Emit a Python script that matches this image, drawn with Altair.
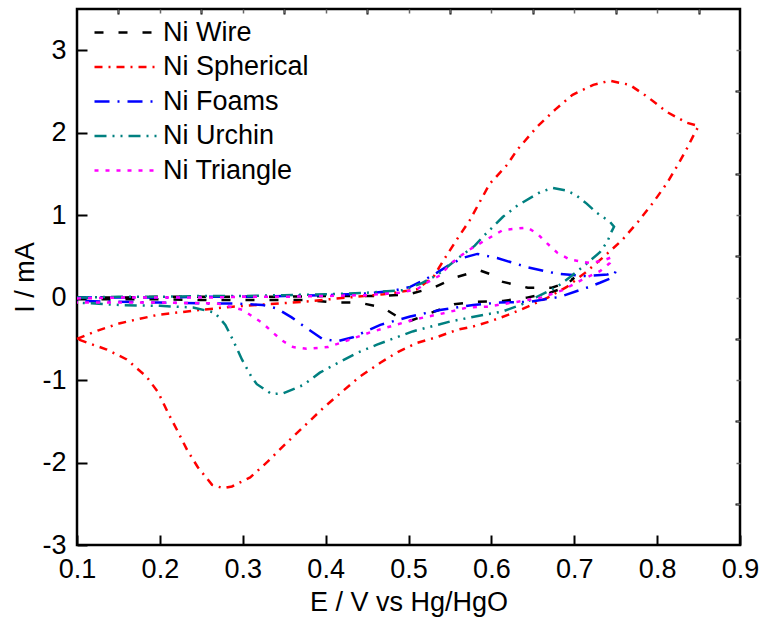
import altair as alt
import pandas as pd

series_names = ["Ni Wire", "Ni Spherical", "Ni Foams", "Ni Urchin", "Ni Triangle"]
series_colors = ["#000000", "#FF0000", "#0000FF", "#008080", "#FF00FF"]
series_dashes = [[9, 15], [8, 6, 2, 6], [15, 8, 2, 8], [12, 6, 2, 6, 2, 6], [4, 7]]

wire_E = [0.10, 0.15, 0.20, 0.25, 0.30, 0.35, 0.40, 0.45, 0.47, 0.50, 0.53, 0.558, 0.586, 0.60, 0.614,
          0.644, 0.673, 0.69, 0.70,
          0.685, 0.671, 0.643, 0.614, 0.583, 0.555, 0.526, 0.50, 0.485, 0.469, 0.44, 0.41, 0.38, 0.35,
          0.30, 0.25, 0.20, 0.15, 0.10]
wire_I = [0.00, 0.00, 0.01, 0.01, 0.01, 0.01, 0.02, 0.02, 0.02, 0.04, 0.12, 0.25, 0.33, 0.28, 0.19,
          0.12, 0.12, 0.18, 0.24,
          0.11, 0.06, 0.00, -0.04, -0.05, -0.08, -0.19, -0.29, -0.22, -0.12, -0.06, -0.06, -0.03, -0.03,
          -0.03, -0.03, -0.02, -0.02, -0.02]

sph_E = [0.10, 0.125, 0.152, 0.197, 0.248, 0.288, 0.33, 0.373, 0.426, 0.47, 0.51, 0.53, 0.544, 0.558,
         0.574, 0.598, 0.619, 0.631, 0.655, 0.677, 0.698, 0.723, 0.743, 0.767, 0.789, 0.812, 0.836, 0.85,
         0.843, 0.836, 0.825, 0.812, 0.795, 0.777, 0.758, 0.735, 0.713, 0.691, 0.668, 0.644, 0.62, 0.598,
         0.578, 0.559, 0.534, 0.51, 0.487, 0.466, 0.441, 0.42, 0.397, 0.373, 0.351, 0.33, 0.309, 0.287,
         0.276, 0.263, 0.246, 0.233, 0.222, 0.21, 0.198, 0.184, 0.16, 0.136, 0.116, 0.10]
sph_I = [-0.50, -0.40, -0.31, -0.21, -0.15, -0.11, -0.08, -0.05, 0.00, 0.04, 0.10, 0.25, 0.48, 0.70,
         0.94, 1.38, 1.61, 1.79, 2.07, 2.28, 2.46, 2.58, 2.63, 2.58, 2.43, 2.25, 2.12, 2.08,
         1.95, 1.81, 1.61, 1.39, 1.15, 0.92, 0.70, 0.49, 0.30, 0.13, 0.00, -0.11, -0.21, -0.29,
         -0.35, -0.39, -0.48, -0.55, -0.66, -0.79, -0.96, -1.14, -1.34, -1.57, -1.78, -1.99, -2.18, -2.29,
         -2.31, -2.27, -2.06, -1.85, -1.63, -1.40, -1.15, -0.96, -0.75, -0.63, -0.56, -0.50]

foam_E = [0.10, 0.15, 0.20, 0.25, 0.30, 0.35, 0.40, 0.45, 0.48, 0.502, 0.52, 0.534, 0.55, 0.565, 0.583,
          0.607, 0.643, 0.679, 0.715, 0.74, 0.75,
          0.748, 0.743, 0.731, 0.715, 0.683, 0.647, 0.61, 0.578, 0.538, 0.502, 0.466, 0.433, 0.414, 0.396,
          0.377, 0.359, 0.341, 0.324, 0.288, 0.252, 0.20, 0.15, 0.10]
foam_I = [0.00, 0.00, 0.00, 0.01, 0.01, 0.02, 0.03, 0.05, 0.08, 0.13, 0.22, 0.30, 0.40, 0.48, 0.53,
          0.48, 0.37, 0.29, 0.26, 0.28, 0.32,
          0.27, 0.23, 0.18, 0.12, 0.01, -0.05, -0.06, -0.09, -0.15, -0.23, -0.33, -0.48, -0.53, -0.50,
          -0.37, -0.24, -0.13, -0.09, -0.07, -0.07, -0.06, -0.05, -0.04]

urch_E = [0.10, 0.15, 0.20, 0.25, 0.30, 0.35, 0.40, 0.45, 0.493, 0.515, 0.534, 0.560, 0.580, 0.59,
          0.614, 0.632, 0.659, 0.674, 0.69, 0.701, 0.715, 0.727, 0.743, 0.748,
          0.745, 0.74, 0.731, 0.71, 0.695, 0.679, 0.655, 0.635, 0.613, 0.59, 0.55, 0.505, 0.486, 0.462,
          0.438, 0.417, 0.393, 0.373, 0.349, 0.335, 0.317, 0.311, 0.299, 0.288, 0.279, 0.266, 0.24, 0.20,
          0.152, 0.10]
urch_I = [0.00, 0.01, 0.01, 0.02, 0.02, 0.03, 0.04, 0.06, 0.09, 0.17, 0.27, 0.48, 0.63, 0.74,
          0.98, 1.12, 1.28, 1.33, 1.30, 1.25, 1.14, 1.03, 0.92, 0.86,
          0.80, 0.68, 0.55, 0.37, 0.25, 0.13, 0.01, -0.09, -0.17, -0.21, -0.29, -0.41, -0.48, -0.57,
          -0.67, -0.78, -0.91, -1.06, -1.16, -1.17, -1.05, -0.97, -0.75, -0.51, -0.33, -0.18, -0.12, -0.10,
          -0.09, -0.06]

tri_E = [0.10, 0.15, 0.20, 0.25, 0.30, 0.35, 0.40, 0.45, 0.49, 0.51, 0.522, 0.538, 0.552, 0.57, 0.59,
         0.614, 0.643, 0.655, 0.667, 0.68, 0.695, 0.719, 0.735, 0.745,
         0.743, 0.731, 0.71, 0.686, 0.66, 0.626, 0.595, 0.571, 0.542, 0.505, 0.478, 0.454, 0.429, 0.403,
         0.377, 0.361, 0.349, 0.337, 0.324, 0.30, 0.269, 0.20, 0.15, 0.10]
tri_I = [-0.01, 0.00, 0.00, 0.00, 0.01, 0.01, 0.02, 0.03, 0.06, 0.10, 0.18, 0.27, 0.42, 0.56, 0.68,
         0.82, 0.85, 0.78, 0.66, 0.54, 0.46, 0.42, 0.45, 0.49,
         0.42, 0.32, 0.22, 0.09, 0.00, -0.06, -0.11, -0.12, -0.19, -0.27, -0.35, -0.42, -0.51, -0.60,
         -0.62, -0.60, -0.53, -0.43, -0.31, -0.15, -0.07, -0.06, -0.06, -0.06]

x_major = [0.1, 0.2, 0.3, 0.4, 0.5, 0.6, 0.7, 0.8, 0.9]
x_minor = [0.15, 0.25, 0.35, 0.45, 0.55, 0.65, 0.75, 0.85]
y_major = [-3, -2, -1, 0, 1, 2, 3]
y_minor = [-2.5, -1.5, -0.5, 0.5, 1.5, 2.5]
x_mirror = [0.15, 0.2, 0.25, 0.3, 0.35, 0.4, 0.45, 0.5, 0.55, 0.6, 0.65, 0.7, 0.75, 0.8, 0.85]
y_mirror = [-2.5, -2, -1.5, -1, -0.5, 0, 0.5, 1, 1.5, 2, 2.5, 3]

rows = []
for name, E, I in [("Ni Wire", wire_E, wire_I), ("Ni Spherical", sph_E, sph_I),
                   ("Ni Foams", foam_E, foam_I), ("Ni Urchin", urch_E, urch_I),
                   ("Ni Triangle", tri_E, tri_I)]:
    for k, (e, i) in enumerate(zip(E, I)):
        rows.append({"series": name, "order": k, "E": e, "I": i})
df = pd.DataFrame(rows)

FONT = "Liberation Sans"
xscale = alt.Scale(domain=[0.1, 0.9], nice=False, zero=False)
yscale = alt.Scale(domain=[-3, 3.5], nice=False, zero=False)

legend_kw = dict(title=None, orient="none", legendX=16, legendY=9,
                 symbolType="M-1,0L3.92,0", symbolSize=676,
                 symbolStrokeWidth=2.5, labelOffset=41, labelFont=FONT,
                 labelFontSize=27, labelColor="black", rowPadding=6.5, padding=0)

base = alt.Chart(df)

main = base.mark_line(strokeWidth=2.5).encode(
    x=alt.X("E:Q", scale=xscale, title="E / V vs Hg/HgO",
            axis=alt.Axis(values=x_major, format=".1f", tickSize=10, offset=-10, domain=False,
                          grid=False, tickWidth=2, tickColor="black", labelPadding=11,
                          labelFlush=False, labelOverlap=False,
                          labelFont=FONT, labelFontSize=27, labelColor="black",
                          titleFont=FONT, titleFontSize=27, titleFontWeight="normal",
                          titleColor="black", titlePadding=7)),
    y=alt.Y("I:Q", scale=yscale, title="I / mA",
            axis=alt.Axis(values=y_major, tickSize=10, offset=-10, domain=False, grid=False,
                          tickWidth=2, tickColor="black", labelPadding=11,
                          labelFlush=False, labelOverlap=False,
                          labelExpr="datum.value < 0 ? '-' + abs(datum.value) : '' + datum.value",
                          labelFont=FONT, labelFontSize=27, labelColor="black",
                          titleFont=FONT, titleFontSize=27, titleFontWeight="normal",
                          titleColor="black", titlePadding=2)),
    color=alt.Color("series:N", scale=alt.Scale(domain=series_names, range=series_colors),
                    legend=alt.Legend(**legend_kw)),
    strokeDash=alt.StrokeDash("series:N",
                              scale=alt.Scale(domain=series_names, range=series_dashes),
                              legend=alt.Legend(**legend_kw)),
    order=alt.Order("order:Q"),
    detail="series:N",
)

minor = base.mark_point(opacity=0).encode(
    x=alt.X("E:Q", scale=xscale, title=None,
            axis=alt.Axis(values=x_minor, tickSize=5, offset=-5, domain=False, grid=False,
                          labels=False, tickWidth=2, tickColor="black")),
    y=alt.Y("I:Q", scale=yscale, title=None,
            axis=alt.Axis(values=y_minor, tickSize=5, offset=-5, domain=False, grid=False,
                          labels=False, tickWidth=2, tickColor="black")),
)

mirror = base.mark_point(opacity=0).encode(
    x=alt.X("E:Q", scale=xscale, title=None,
            axis=alt.Axis(orient="top", values=x_mirror, tickSize=4, offset=-4, domain=False,
                          grid=False, labels=False, tickWidth=1.5, tickColor="#666666")),
    y=alt.Y("I:Q", scale=yscale, title=None,
            axis=alt.Axis(orient="right", values=y_mirror, tickSize=4, offset=-4, domain=False,
                          grid=False, labels=False, tickWidth=1.5, tickColor="#666666")),
)

chart = alt.layer(main, minor, mirror).resolve_axis(
    x="independent", y="independent"
).properties(
    width=663, height=536,
    autosize=alt.AutoSizeParams(type="none"),
    padding={"left": 77, "top": 9, "right": 21, "bottom": 74},
).configure_view(stroke="black", strokeWidth=2.5)

chart.save("out.html", embed_options={"renderer": "svg", "actions": False})
